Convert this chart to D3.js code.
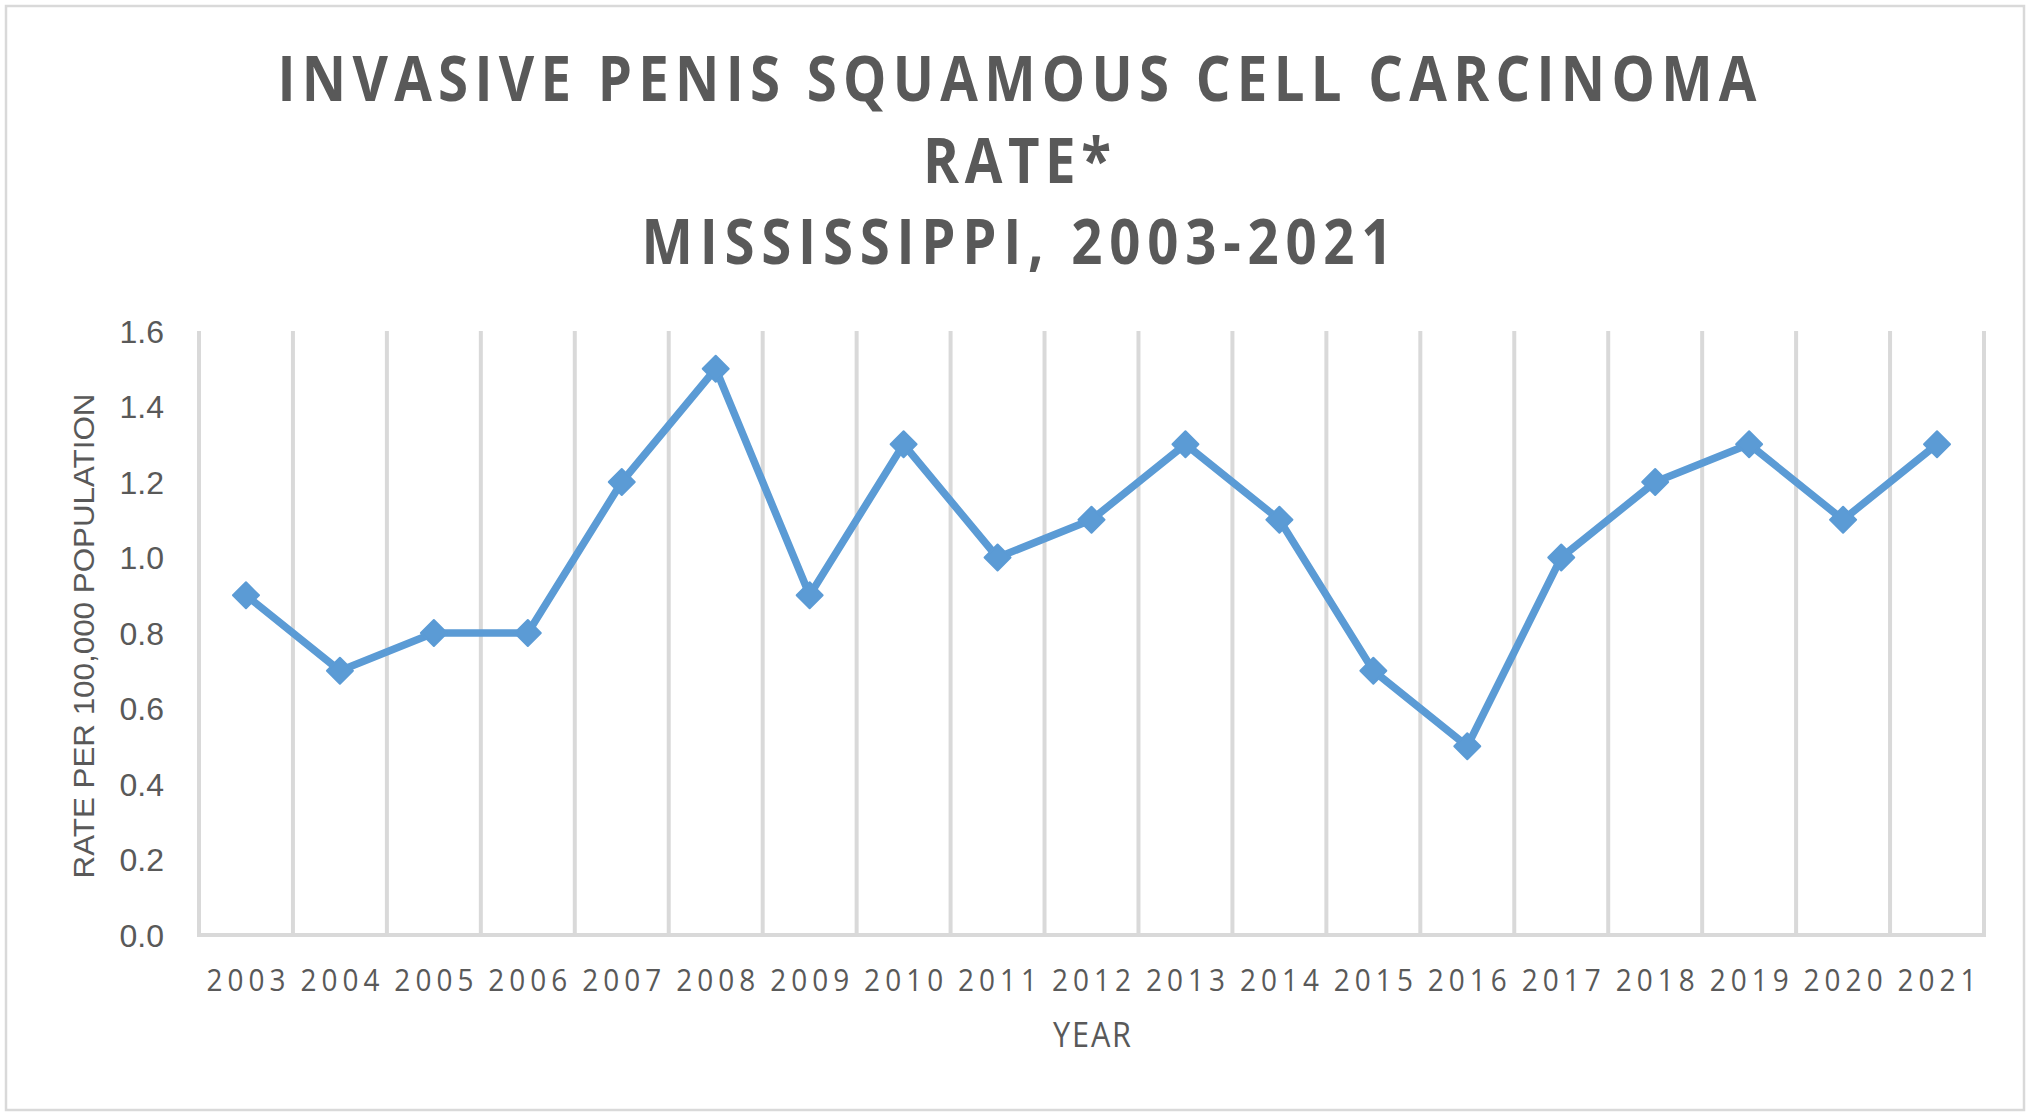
<!DOCTYPE html>
<html><head><meta charset="utf-8">
<script src="https://cdn.jsdelivr.net/npm/d3@7"></script>
<style>html,body{margin:0;padding:0;background:#fff;}svg{display:block;}</style>
</head><body>
<script>
const years = ["2003","2004","2005","2006","2007","2008","2009","2010","2011","2012","2013","2014","2015","2016","2017","2018","2019","2020","2021"];
const rates = [0.9,0.7,0.8,0.8,1.2,1.5,0.9,1.3,1.0,1.1,1.3,1.1,0.7,0.5,1.0,1.2,1.3,1.1,1.3];
const yTicks = [0,0.2,0.4,0.6,0.8,1.0,1.2,1.4,1.6];
const titleLines = ["INVASIVE PENIS SQUAMOUS CELL CARCINOMA","RATE*","MISSISSIPPI, 2003-2021"];
const xTitle = "YEAR";
const yTitle = "RATE PER 100,000 POPULATION";

const W = 2036, H = 1116;
const m = {left:199, right:W-1984, top:331, bottom:H-935};
const txt = "#595959", grid = "#D9D9D9", blue = "#5B9BD5";
const sqTitle = 0.88, sqLabel = 0.9;

const svg = d3.select("body").append("svg").attr("width",W).attr("height",H);
svg.append("rect").attr("x",6).attr("y",6).attr("width",2018).attr("height",1104)
  .attr("fill","#fff").attr("stroke",grid).attr("stroke-width",2.5);

const x = d3.scaleBand().domain(years).range([m.left, W-m.right]).padding(0);
const y = d3.scaleLinear().domain([0,1.6]).range([H-m.bottom, m.top]);

// vertical gridlines at category boundaries
const bounds = years.map(d=>x(d)).concat([x.range()[1]]);
svg.append("g").selectAll("line").data(bounds).join("line")
  .attr("x1",d=>d).attr("x2",d=>d).attr("y1",y(1.6)).attr("y2",y(0))
  .attr("stroke",grid).attr("stroke-width",4);
// bottom axis line
svg.append("line").attr("x1",x.range()[0]-2).attr("x2",x.range()[1]+2)
  .attr("y1",y(0)).attr("y2",y(0)).attr("stroke",grid).attr("stroke-width",4);

// y axis labels
const yAxis = d3.axisLeft(y).tickValues(yTicks).tickFormat(d3.format(".1f")).tickSize(0).tickPadding(35);
const gy = svg.append("g").attr("transform",`translate(${m.left},0)`).call(yAxis);
gy.select(".domain").remove();
gy.selectAll("text").attr("fill",txt).style("font-family","'Liberation Sans', Arial, sans-serif")
  .style("font-size","32px").attr("dy","0.35em");

// x axis labels
const xAxis = d3.axisBottom(x).tickSize(0).tickPadding(0);
const gx = svg.append("g").attr("transform",`translate(0,${y(0)})`).call(xAxis);
gx.select(".domain").remove();
gx.selectAll("text").attr("fill",txt).style("font-family","'Open Sans', sans-serif")
  .style("font-size","31px").attr("y",56).attr("dy",0)
  .attr("transform",`scale(${sqLabel},1)`)
  .attr("textLength",79/sqLabel).attr("lengthAdjust","spacing");

// line
const line = d3.line().x((d,i)=>x(years[i])+x.bandwidth()/2).y(d=>y(d));
svg.append("path").datum(rates).attr("d",line).attr("fill","none")
  .attr("stroke",blue).attr("stroke-width",7.5).attr("stroke-linejoin","round");
const diamond = d3.symbol().type(d3.symbolDiamond2).size(430);
svg.append("g").selectAll("path").data(rates).join("path")
  .attr("transform",(d,i)=>`translate(${x(years[i])+x.bandwidth()/2},${y(d)})`)
  .attr("d",diamond).attr("fill",blue).attr("stroke",blue).attr("stroke-width",2).attr("stroke-linejoin","round");

// titles
const tWidths = [1479,188,751];
const tBase = [101,183,264];
titleLines.forEach((t,i)=>{
  svg.append("g").attr("transform",`translate(1017,${tBase[i]}) scale(${sqTitle},1)`)
    .append("text").attr("x",0).attr("y",0).attr("text-anchor","middle")
    .attr("fill",txt).style("font-family","'Open Sans', sans-serif").style("font-weight","700")
    .style("font-size","62px").attr("textLength",tWidths[i]/sqTitle).attr("lengthAdjust","spacing")
    .text(t);
});

// axis titles
svg.append("g").attr("transform",`translate(1092,1047) scale(${sqLabel},1)`)
  .append("text").attr("text-anchor","middle")
  .attr("fill",txt).style("font-family","'Open Sans', sans-serif").style("font-size","34px")
  .attr("textLength",78/sqLabel).attr("lengthAdjust","spacing").text(xTitle);
svg.append("text").attr("transform","translate(94,636) rotate(-90)").attr("text-anchor","middle")
  .attr("fill",txt).style("font-family","'Liberation Sans', Arial, sans-serif").style("font-size","30px")
  .attr("textLength",485).attr("lengthAdjust","spacingAndGlyphs").text(yTitle);
</script>
</body></html>
